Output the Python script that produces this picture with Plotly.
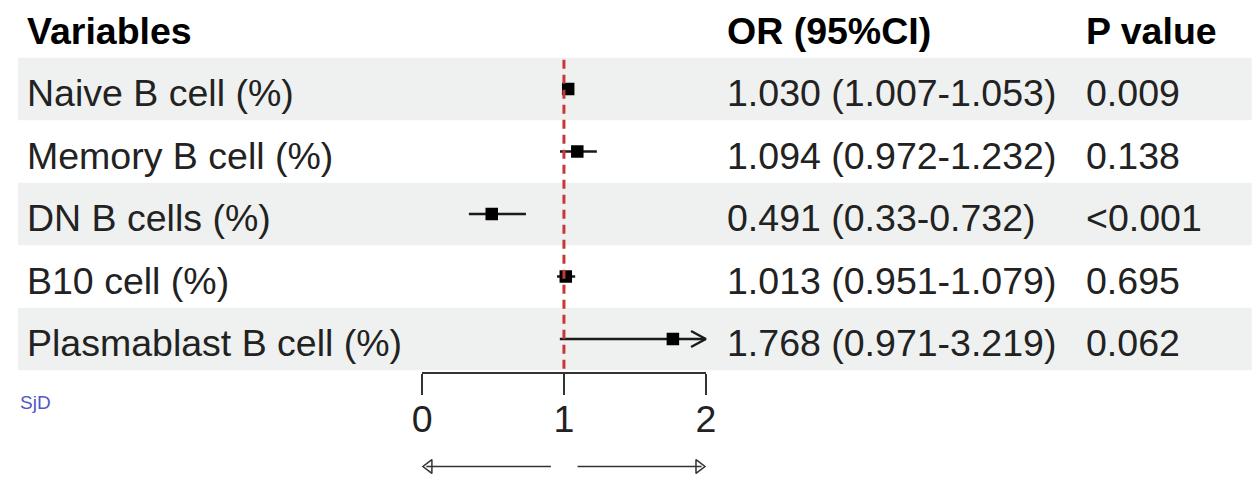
import plotly.graph_objects as go

# ---------------- data ----------------
variables = ["Naive B cell (%)", "Memory B cell (%)", "DN B cells (%)",
             "B10 cell (%)", "Plasmablast B cell (%)"]
odds_ratio = [1.030, 1.094, 0.491, 1.013, 1.768]
ci_low = [1.007, 0.972, 0.33, 0.951, 0.971]
ci_high = [1.053, 1.232, 0.732, 1.079, 3.219]
p_values = ["0.009", "0.138", "<0.001", "0.695", "0.062"]
x_ticks = [0, 1, 2]
headers = ["Variables", "OR (95%CI)", "P value"]
ref_value = 1

# ---------------- layout helpers ----------------
W, H = 1260, 483
FONT = "Liberation Sans, Arial, Helvetica, sans-serif"
FS = 37.5
X_LO, X_HI = min(x_ticks), max(x_ticks)
PX0, PX_PER = 410.6, 144.15         # figure pixel of x=0 and pixels per unit
ROW0, ROW_H = 81.0, 62.5            # figure pixel of first row centre, row height
xr = [(0 - PX0) / PX_PER, (W - PX0) / PX_PER]
yr_top = (0 - ROW0) / ROW_H
yr_bot = (H - ROW0) / ROW_H


def row_to_paper(r):
    return (yr_bot - r) / (yr_bot - yr_top)


n = len(variables)
axis_row = n - 0.5 + 0.023
col_var, col_or, col_p = 7.6 / W, 718 / W, 1083 / W
text_dy = 0.064
hdr_row = -0.925

fig = go.Figure()

# shaded bands
shapes = []
for i in range(n):
    if i % 2 == 0:
        shapes.append(dict(type="rect", xref="paper", yref="y",
                           x0=0, x1=1253.6 / W, y0=i - 0.5, y1=i + 0.5,
                           fillcolor="#eef1f0", line=dict(width=0), layer="below"))
# reference line
shapes.append(dict(type="line", xref="x", yref="y", x0=ref_value, x1=ref_value,
                   y0=-0.47, y1=axis_row,
                   line=dict(color="#c83737", width=3, dash="9px,6px"), layer="above"))

# CI lines and squares
for i in range(n):
    hi = min(ci_high[i], X_HI)
    lo = max(ci_low[i], X_LO)
    fig.add_trace(go.Scatter(x=[lo, hi], y=[i, i], mode="lines",
                             line=dict(color="#1a1a1a", width=2.5),
                             showlegend=False, hoverinfo="skip"))
    if ci_high[i] > X_HI:
        dx, dy = 15 / PX_PER, 8 / ROW_H
        fig.add_trace(go.Scatter(x=[hi - dx, hi, hi - dx], y=[i - dy, i, i + dy],
                                 mode="lines", line=dict(color="#1a1a1a", width=2.5),
                                 showlegend=False, hoverinfo="skip"))
fig.add_trace(go.Scatter(x=odds_ratio, y=list(range(n)), mode="markers",
                         marker=dict(symbol="square", size=12.5, color="black",
                                     line=dict(width=0)),
                         showlegend=False, hoverinfo="skip"))

# bottom direction arrows
arrow_row = 6.04
tip_off = 6.93 / PX_PER
fig.add_trace(go.Scatter(x=[X_LO + 0.03, 0.908], y=[arrow_row, arrow_row], mode="lines",
                         line=dict(color="#333333", width=1.5),
                         showlegend=False, hoverinfo="skip"))
fig.add_trace(go.Scatter(x=[1.096, X_HI - 0.03], y=[arrow_row, arrow_row], mode="lines",
                         line=dict(color="#333333", width=1.5),
                         showlegend=False, hoverinfo="skip"))
fig.add_trace(go.Scatter(x=[X_LO + tip_off, X_HI - tip_off], y=[arrow_row, arrow_row],
                         mode="markers",
                         marker=dict(symbol=["triangle-left-open", "triangle-right-open"],
                                     size=12, color="#333333", line=dict(width=1.5)),
                         showlegend=False, hoverinfo="skip"))

# dummy trace for the displayed axis subplot
fig.add_trace(go.Scatter(x=[], y=[], xaxis="x2", yaxis="y2", showlegend=False,
                         hoverinfo="skip"))

# text
ann = []
for txt, cx in zip(headers, [col_var, col_or, col_p]):
    ann.append(dict(text="<b>" + txt + "</b>", x=cx, y=hdr_row, xref="paper", yref="y",
                    xanchor="left", yanchor="middle", showarrow=False,
                    font=dict(family=FONT, size=FS, color="black")))
for i in range(n):
    or_txt = f"{odds_ratio[i]:.3f} ({ci_low[i]}-{ci_high[i]})"
    for txt, cx in zip([variables[i], or_txt, p_values[i]], [col_var, col_or, col_p]):
        ann.append(dict(text=txt, x=cx, y=i + text_dy, xref="paper", yref="y",
                        xanchor="left", yanchor="middle", showarrow=False,
                        font=dict(family=FONT, size=FS, color="#222222")))
ann.append(dict(text="SjD", x=0, y=1 - 394 / H, xref="paper", yref="paper",
                xanchor="left", yanchor="middle", showarrow=False,
                font=dict(family=FONT, size=19, color="#5555c8")))

fig.update_layout(
    width=W, height=H,
    margin=dict(l=0, r=0, t=0, b=0),
    paper_bgcolor="white", plot_bgcolor="rgba(0,0,0,0)",
    shapes=shapes, annotations=ann,
    xaxis=dict(domain=[0, 1], range=xr, visible=False, fixedrange=True),
    yaxis=dict(domain=[0, 1], range=[yr_bot, yr_top], visible=False, fixedrange=True),
    xaxis2=dict(domain=[(PX0 + X_LO * PX_PER) / W, (PX0 + X_HI * PX_PER) / W],
                range=[X_LO, X_HI], anchor="y2", tickvals=x_ticks,
                ticktext=[str(t) for t in x_ticks],
                showline=True, linecolor="#333333", linewidth=2,
                ticks="outside", ticklen=21, tickwidth=2, tickcolor="#333333",
                ticklabelstandoff=-8,
                showgrid=False, zeroline=False, fixedrange=True,
                tickfont=dict(family=FONT, size=FS, color="#222222")),
    yaxis2=dict(domain=[row_to_paper(axis_row), 1], visible=False, range=[0, 1],
                fixedrange=True),
    showlegend=False,
)

fig.write_html("out.html")
